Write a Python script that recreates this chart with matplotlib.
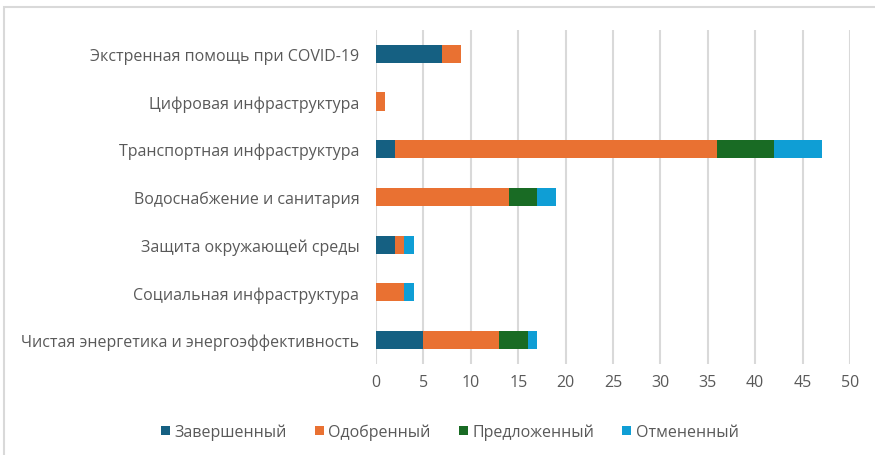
import matplotlib.pyplot as plt
from matplotlib.patches import Rectangle
import numpy as np

# данные (снизу вверх)
categories = [
    "Чистая энергетика и энергоэффективность",
    "Социальная инфраструктура",
    "Защита окружающей среды",
    "Водоснабжение и санитария",
    "Транспортная инфраструктура",
    "Цифровая инфраструктура",
    "Экстренная помощь при COVID-19",
]
completed = [5, 0, 2, 0, 2, 0, 7]
approved = [8, 3, 1, 14, 34, 1, 2]
proposed = [3, 0, 0, 3, 6, 0, 0]
cancelled = [1, 1, 1, 2, 5, 0, 0]

series_names = ["Завершенный", "Одобренный", "Предложенный", "Отмененный"]
colors = ["#156082", "#E97132", "#196B24", "#0F9ED5"]

plt.rcParams['font.family'] = ['Open Sans', 'DejaVu Sans']

fig = plt.figure(figsize=(8.75, 4.56), dpi=100)
# рамка вокруг графика
fig.patches.append(Rectangle((4 / 875, -0.1), 1.2, 1 - 8 / 456 + 0.1, transform=fig.transFigure,
                             fill=False, edgecolor="#D9D9D9", linewidth=1.5))
ax = fig.add_axes([0.4297, 0.2, 0.9714 - 0.4297, 0.732])

y = np.arange(len(categories))
left = np.zeros(len(categories))
for vals, name, c in zip([completed, approved, proposed, cancelled], series_names, colors):
    ax.barh(y, vals, left=left, height=0.38, color=c, label=name, zorder=3)
    left += np.array(vals)

ax.set_xlim(0, 50)
ax.set_ylim(-0.5, len(categories) - 0.5)
ax.set_xticks(np.arange(0, 51, 5))
ax.set_yticks(y)
ax.set_yticklabels(categories)
ax.xaxis.grid(True, color="#D9D9D9", linewidth=1.5, zorder=0)
for s in ax.spines.values():
    s.set_visible(False)
ax.tick_params(axis="both", length=0, colors="#595959", labelsize=11.5)
ax.tick_params(axis="x", pad=7)
ax.tick_params(axis="y", pad=12)

leg = fig.legend(loc="center", bbox_to_anchor=(0.514, 1 - 433 / 456), ncol=4, frameon=False,
                 fontsize=11.5, handlelength=0.55, handleheight=0.55, handletextpad=0.3,
                 columnspacing=1.75)
for t in leg.get_texts():
    t.set_color("#595959")

fig.savefig("out.png", dpi=100)
